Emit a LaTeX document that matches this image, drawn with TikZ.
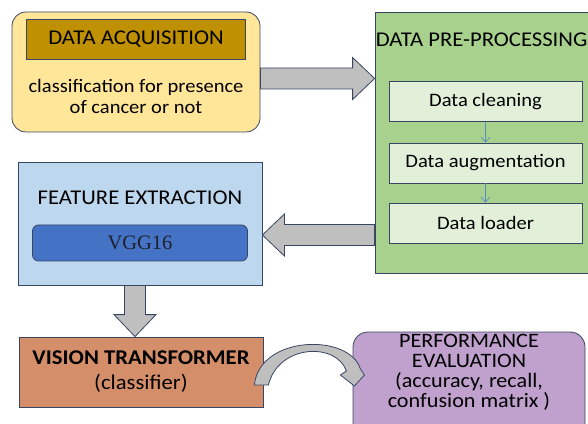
\documentclass[tikz,border=0pt]{standalone}
\usepackage{fontspec}
\setmainfont[FakeStretch=1.08]{Carlito}
\newfontfamily\vggfont{Liberation Serif}
\usetikzlibrary{positioning,calc,arrows.meta}

\definecolor{edgeblue}{RGB}{56,70,100}
\definecolor{acqfill}{RGB}{255,230,153}
\definecolor{acqhead}{RGB}{191,144,0}
\definecolor{prefill}{RGB}{169,209,142}
\definecolor{stepfill}{RGB}{226,240,217}
\definecolor{featfill}{RGB}{189,215,238}
\definecolor{vggfill}{RGB}{68,114,196}
\definecolor{vggtext}{RGB}{30,32,42}
\definecolor{vtfill}{RGB}{213,142,106}
\definecolor{perffill}{RGB}{192,160,204}
\definecolor{arrowgray}{RGB}{191,191,191}
\definecolor{linkblue}{RGB}{91,140,200}

\newcommand{\bigfont}{\fontsize{21}{25}\selectfont}
\newcommand{\smallfont}{\fontsize{19}{21}\selectfont}

\tikzset{
  box/.style={draw=edgeblue, line width=0.8pt, inner sep=0pt},
  stepbox/.style={box, fill=stepfill, minimum width=193pt, minimum height=40pt, font=\smallfont},
  bigarrow/.style={draw=edgeblue, fill=arrowgray, line width=0.8pt, line join=miter},
}

% block arrow from #1 to #2
\newcommand{\fatarrow}[2]{%
  \coordinate (head) at ($(#2)!22pt!(#1)$);
  \path[bigarrow] ($(#1)!10.5pt!90:(#2)$) -- ($(head)!10.5pt!90:(#2)$)
    -- ($(head)!21pt!90:(#2)$) -- (#2) -- ($(head)!21pt!-90:(#2)$)
    -- ($(head)!10.5pt!-90:(#2)$) -- ($(#1)!10.5pt!-90:(#2)$) -- cycle;}

\begin{document}
\begin{tikzpicture}[x=1pt,y=1pt,on grid]
  \useasboundingbox (0,0) rectangle (588,423);
  \node[box,rounded corners=14pt,fill=acqfill,minimum width=248pt,minimum height=120pt] (acq) at (136,351) {};
  \node[box,fill=acqhead,minimum width=219pt,minimum height=40pt,font=\bigfont] (acqtitle) [above=33pt of acq] {DATA ACQUISITION};
  \node[align=center,font=\smallfont] (acqtext) [below=24.5pt of acq] {classification for presence\\of cancer or not};

  \node[box,fill=prefill,minimum width=214pt,minimum height=261pt] (pre) [below right=70.5pt and 346pt of acq] {};
  \node[font=\bigfont,anchor=west,inner sep=1pt] (pretitle) at ([yshift=-28pt]pre.north west) {DATA PRE-PROCESSING};
  \node[stepbox] (clean) [above right=41pt and 3.5pt of pre] {Data cleaning};
  \node[stepbox] (augm) [below=61.5pt of clean] {Data augmentation};
  \node[stepbox] (loader) [below=60pt of augm] {Data loader};
  \path[-{Straight Barb[length=5pt,width=9pt]},draw=linkblue,line width=0.7pt]
    (clean) edge (augm)
    (augm) edge (loader);

  \node[box,fill=featfill,minimum width=244pt,minimum height=123pt] (feat) [below right=151.5pt and 4pt of acq] {};
  \node[font=\bigfont] (feattitle) [above=25.5pt of feat] {FEATURE EXTRACTION};
  \node[box,rounded corners=6pt,fill=vggfill,minimum width=215pt,minimum height=36pt,font=\vggfont\fontsize{20.5}{22}\selectfont,text=vggtext] (vgg) [below=19.5pt of feat] {VGG16};

  \node[box,fill=vtfill,minimum width=244pt,minimum height=70pt,align=center,font=\bigfont] (vt) [below right=148.5pt and 1pt of feat] {\textbf{VISION TRANSFORMER}\\(classifier)};
  \node[box,rounded corners=15pt,fill=perffill,minimum width=232pt,minimum height=110pt] (perf) [below right=15pt and 328pt of vt] {};
  \node[align=center,font=\fontsize{20.5}{20}\selectfont] (perftext) [above=14.5pt of perf] {PERFORMANCE\\EVALUATION\\(accuracy, recall,\\confusion matrix )};

  \coordinate (a1s) at ([yshift=-6.5pt]acq.east);
  \coordinate (a1e) at (pre.west |- a1s);
  \fatarrow{a1s}{a1e}
  \coordinate (a2e) at ([yshift=-11.5pt]feat.east);
  \coordinate (a2s) at (pre.west |- a2e);
  \fatarrow{a2s}{a2e}
  \coordinate (a3e) at ([xshift=-6pt]vt.north);
  \coordinate (a3s) at (feat.south -| a3e);
  \fatarrow{a3s}{a3e}

  \begin{scope}[shift={(vt.east)}]
    \path[bigarrow] (-9,-13) .. controls (-4,37) and (86,39) .. (97,3) -- (101,-3) -- (91,-14) -- (77,-3) -- (83,1)
      .. controls (73,30) and (15,28) .. (5,-13) -- cycle;
  \end{scope}
\end{tikzpicture}
\end{document}
